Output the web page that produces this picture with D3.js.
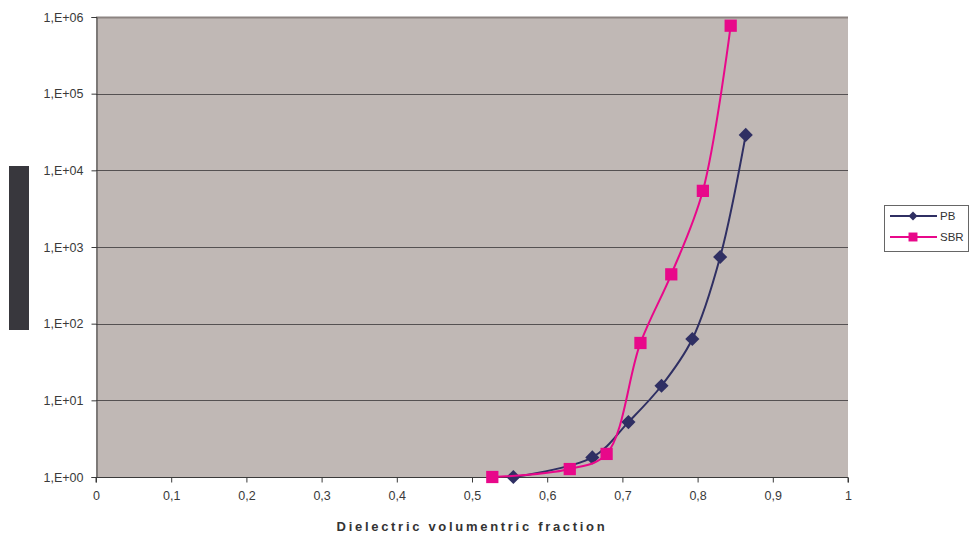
<!DOCTYPE html>
<html>
<head>
<meta charset="utf-8">
<script src="https://cdn.jsdelivr.net/npm/d3@7"></script>
<style>
  html, body { margin: 0; padding: 0; background: #fff; }
  svg { display: block; font-family: "Liberation Sans", Arial, sans-serif; }
</style>
</head>
<body>
<svg id="chart" width="970" height="538"></svg>
<script>
// Dielectric volumetric fraction vs. value (log scale)
const pbX   = [0.555, 0.660, 0.708, 0.752, 0.793, 0.830, 0.864];
const pbY   = [1.0, 1.8, 5.2, 15.5, 63, 740, 29000];
const sbrX  = [0.527, 0.630, 0.679, 0.724, 0.765, 0.807, 0.844];
const sbrY  = [1.0, 1.27, 2.0, 56, 440, 5400, 770000];
const xTicks = [0, 0.1, 0.2, 0.3, 0.4, 0.5, 0.6, 0.7, 0.8, 0.9, 1];
const yTicks = [1, 10, 100, 1000, 10000, 100000, 1000000];
const yTickLabels = ["1,E+00", "1,E+01", "1,E+02", "1,E+03", "1,E+04", "1,E+05", "1,E+06"];
const seriesNames = ["PB", "SBR"];
const seriesColors = ["#2f2f63", "#e8088a"];

const svg = d3.select("#chart");
const plot = { left: 96, right: 848, top: 17, bottom: 477 };

const x = d3.scaleLinear().domain([0, 1]).range([plot.left, plot.right]);
const y = d3.scaleLog().domain([1, 1e6]).range([plot.bottom, plot.top]);

// plot area background
svg.append("rect")
  .attr("x", plot.left).attr("y", plot.top)
  .attr("width", plot.right - plot.left).attr("height", plot.bottom - plot.top)
  .attr("fill", "#c0b8b5");

// horizontal gridlines
svg.append("g").selectAll("line")
  .data(yTicks.slice(1))
  .join("line")
  .attr("x1", plot.left).attr("x2", plot.right)
  .attr("y1", d => Math.round(y(d)) + 0.5).attr("y2", d => Math.round(y(d)) + 0.5)
  .attr("stroke", d => d === 1e6 ? "#8c8481" : "#555152")
  .attr("stroke-width", d => d === 1e6 ? 2 : 1);

// y axis
const yAxis = d3.axisLeft(y)
  .tickValues(yTicks)
  .tickFormat((d, i) => yTickLabels[i])
  .tickSize(5)
  .tickPadding(8);
const gy = svg.append("g")
  .attr("transform", `translate(${plot.left + 0.5},0)`)
  .call(yAxis);
gy.select(".domain").attr("stroke", "#3a3a3a");
gy.selectAll(".tick line").attr("stroke", "#3a3a3a");
gy.selectAll(".tick text")
  .attr("fill", "#3a3a3a")
  .style("font-size", "12.5px")
  .style("font-family", "'Liberation Sans', Arial, sans-serif");

// x axis
const xAxis = d3.axisBottom(x)
  .tickValues(xTicks)
  .tickFormat(d => d3.format("~g")(d).replace(".", ","))
  .tickSize(5)
  .tickPadding(9);
const gx = svg.append("g")
  .attr("transform", `translate(0,${plot.bottom + 0.5})`)
  .call(xAxis);
gx.select(".domain").attr("stroke", "#3a3a3a").attr("d", `M${plot.left},5V0H${plot.right}V5`);
gx.selectAll(".tick line").attr("stroke", "#3a3a3a");
gx.selectAll(".tick text")
  .attr("fill", "#3a3a3a")
  .style("font-size", "12.5px")
  .style("font-family", "'Liberation Sans', Arial, sans-serif");

// x axis title
svg.append("text")
  .attr("x", 472)
  .attr("y", 531)
  .attr("text-anchor", "middle")
  .attr("fill", "#333")
  .style("font-size", "13px")
  .style("font-weight", "bold")
  .style("letter-spacing", "2.7px")
  .text("Dielectric volumentric fraction");

// y axis title block
svg.append("rect")
  .attr("x", 9).attr("y", 166).attr("width", 20).attr("height", 164)
  .attr("fill", "#38373d");

// series
const series = [
  { name: seriesNames[0], xs: pbX, ys: pbY, color: seriesColors[0], size: 100, shape: "diamond" },
  { name: seriesNames[1], xs: sbrX, ys: sbrY, color: seriesColors[1], size: 150, shape: "square" }
];

const line = d3.line()
  .x(d => x(d[0]))
  .y(d => y(d[1]))
  .curve(d3.curveCatmullRom.alpha(0.5));

function marker(g, s, cx, cy) {
  g.append("path")
    .attr("d", d3.symbol().type(d3.symbolSquare).size(s.size)())
    .attr("transform", s.shape === "diamond"
      ? `translate(${cx},${cy}) rotate(45)`
      : `translate(${cx},${cy})`)
    .attr("fill", s.color);
}

series.forEach(s => {
  const pts = s.xs.map((v, i) => [v, s.ys[i]]);
  const g = svg.append("g");
  g.append("path")
    .attr("d", line(pts))
    .attr("fill", "none")
    .attr("stroke", s.color)
    .attr("stroke-width", 2);
  pts.forEach(p => marker(g, s, x(p[0]), y(p[1])));
});

// legend
const lg = svg.append("g");
lg.append("rect")
  .attr("x", 884.5).attr("y", 205.5).attr("width", 84).attr("height", 46)
  .attr("fill", "#fff").attr("stroke", "#666").attr("stroke-width", 1);
series.forEach((s, i) => {
  const ly = 216 + i * 21;
  lg.append("line")
    .attr("x1", 890).attr("x2", 937).attr("y1", ly).attr("y2", ly)
    .attr("stroke", s.color).attr("stroke-width", 2);
  const ls = { ...s, size: s.shape === "diamond" ? 40 : 80 };
  marker(lg, ls, 913, ly);
  lg.append("text")
    .attr("x", 940).attr("y", ly + 4)
    .attr("fill", "#333")
    .style("font-size", "11.5px")
    .text(s.name);
});
</script>
</body>
</html>
